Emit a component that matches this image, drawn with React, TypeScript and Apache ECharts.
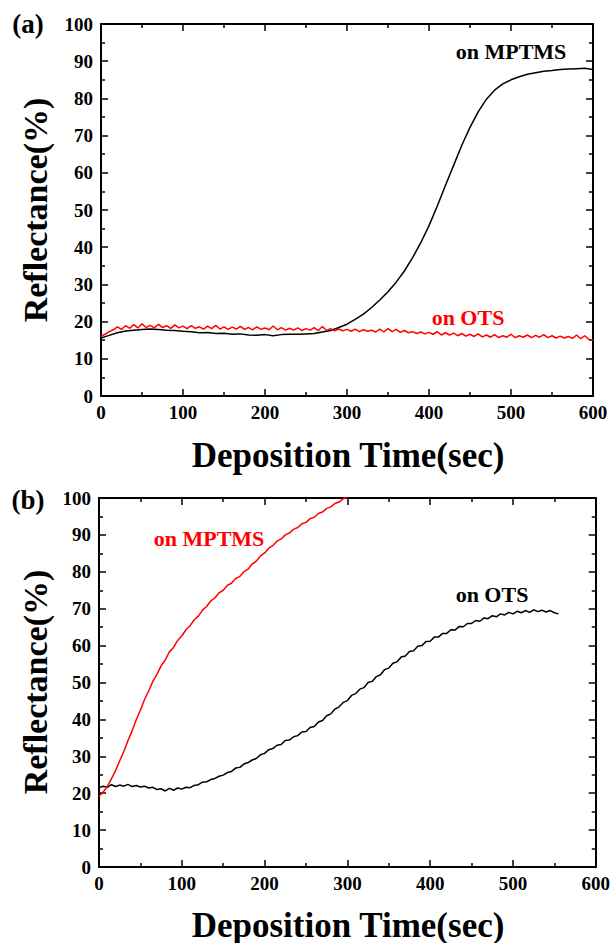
import React, { useEffect, useRef } from "react";
import * as echarts from "echarts";

// ---------- data ----------
// Panel (a): time axis in seconds
const A_MPTMS_STEP = 10; // samples every 10 s from 0 to 600
const A_MPTMS = [
  15.6, 16.3, 17.0, 17.5, 17.7, 17.9, 18.0, 17.9, 17.7, 17.6,
  17.4, 17.3, 17.0, 17.1, 16.8, 16.9, 16.6, 16.7, 16.4, 16.3,
  16.5, 16.2, 16.5, 16.6, 16.6, 16.7, 16.8, 17.2, 17.6, 18.4,
  19.3, 20.6, 22.0, 23.8, 25.8, 28.0, 30.6, 33.6, 37.2, 41.2,
  45.8, 51.0, 56.6, 62.0, 67.4, 72.2, 76.4, 79.8, 82.2, 83.9,
  85.0, 85.8, 86.5, 86.9, 87.3, 87.5, 87.8, 87.9, 88.0, 88.1,
  87.8,
];
const A_OTS_STEP = 5; // samples every 5 s from 0 to 600
const A_OTS = [
  16.1, 16.6, 17.3, 17.8, 18.6, 17.9, 18.9, 18.2, 19.2, 18.3,
  19.4, 18.4, 19.0, 18.3, 19.3, 18.4, 18.9, 18.2, 19.1, 18.3,
  18.8, 18.1, 18.9, 18.2, 18.6, 18.0, 18.8, 18.1, 19.0, 18.0,
  18.6, 17.9, 18.5, 18.0, 18.7, 17.9, 18.4, 17.8, 18.6, 17.9,
  18.3, 17.8, 18.8, 17.8, 18.4, 17.7, 18.2, 17.7, 18.3, 17.6,
  18.1, 17.7, 18.4, 17.6, 18.7, 17.6, 18.1, 17.5, 18.0, 17.5,
  17.9, 17.4, 18.0, 17.3, 17.8, 17.4, 17.7, 17.2, 18.0, 17.2,
  18.1, 17.3, 17.9, 17.1, 17.6, 17.0, 17.3, 16.8, 17.2, 16.7,
  17.1, 16.6, 17.3, 16.4, 17.0, 16.4, 16.9, 16.2, 16.8, 16.1,
  16.6, 16.0, 16.7, 15.9, 16.4, 15.8, 16.5, 15.7, 16.2, 15.8,
  16.6, 15.7, 16.2, 15.8, 16.4, 15.7, 16.3, 15.8, 16.5, 15.7,
  16.2, 15.6, 16.1, 15.6, 16.0, 15.5, 16.4, 15.4, 16.2, 15.2,
  14.9,
];

// Panel (b)
const B_MPTMS_STEP = 5; // 0 .. 300 s
const B_MPTMS = [
  19.2, 20.3, 21.8, 23.9, 26.1, 28.8, 31.3, 34.3, 36.9, 39.9,
  42.5, 45.4, 47.7, 50.3, 52.2, 54.5, 56.1, 58.3, 59.5, 61.4,
  62.6, 64.3, 65.4, 67.0, 68.0, 69.6, 70.6, 72.1, 72.9, 74.3,
  75.0, 76.3, 76.9, 78.2, 78.7, 80.0, 80.7, 82.1, 82.9, 84.3,
  85.1, 86.4, 87.1, 88.3, 88.9, 90.0, 90.5, 91.5, 92.0, 93.0,
  93.4, 94.4, 94.8, 95.8, 96.2, 97.2, 97.6, 98.5, 98.9, 99.8,
  100.2,
];
const B_OTS_STEP = 5; // 0 .. 555 s
const B_OTS = [
  21.5, 21.9, 21.6, 22.3, 21.8, 22.2, 21.9, 22.4, 21.8, 22.1,
  21.7, 21.9, 21.4, 21.6, 21.0, 21.2, 20.6, 21.3, 20.8, 21.4,
  21.1, 21.6, 21.5, 22.1, 22.3, 23.0, 23.1, 23.7, 24.0, 24.6,
  24.9, 25.6, 25.9, 26.8, 27.0, 27.9, 28.3, 29.0, 29.4, 30.4,
  30.8, 31.8, 32.1, 33.0, 33.2, 34.3, 34.4, 35.3, 35.6, 36.6,
  36.7, 37.8, 38.1, 39.3, 39.7, 41.0, 41.5, 42.8, 43.4, 44.6,
  45.1, 46.5, 47.0, 48.2, 48.6, 50.0, 50.3, 51.6, 52.1, 53.5,
  53.9, 55.2, 55.6, 56.9, 57.2, 58.4, 58.6, 59.8, 60.0, 61.1,
  61.2, 62.3, 62.3, 63.3, 63.3, 64.3, 64.2, 65.2, 65.1, 66.0,
  66.0, 66.8, 66.6, 67.5, 67.3, 68.1, 67.8, 68.6, 68.3, 69.0,
  68.6, 69.3, 68.9, 69.5, 69.0, 69.7, 69.2, 69.6, 69.1, 69.5,
  68.9, 68.6,
];

const X_TICKS = [0, 100, 200, 300, 400, 500, 600];
const Y_TICKS = [0, 10, 20, 30, 40, 50, 60, 70, 80, 90, 100];

const X_TITLE = "Deposition Time(sec)";
const Y_TITLE = "Reflectance(%)";

// ---------- helpers ----------
const FONT = "'Times New Roman', 'Liberation Serif', 'DejaVu Serif', serif";

const toPairs = (vals: number[], step: number) =>
  vals.map((v, i) => [i * step, v]);

const xAxisBase = (gridIndex: number, position: "bottom" | "top", labels: boolean) => ({
  type: "value",
  gridIndex,
  position,
  min: X_TICKS[0],
  max: X_TICKS[X_TICKS.length - 1],
  interval: X_TICKS[1] - X_TICKS[0],
  axisLine: { show: true, onZero: false, lineStyle: { color: "#000", width: 2 } },
  axisTick: { show: true, inside: true, length: 7, lineStyle: { color: "#000", width: 1.5 } },
  minorTick: { show: true, splitNumber: 2, length: 4, lineStyle: { color: "#000", width: 1.5 } },
  splitLine: { show: false },
  minorSplitLine: { show: false },
  axisLabel: {
    show: labels,
    color: "#000",
    fontSize: 19,
    fontWeight: "bold",
    fontFamily: FONT,
    margin: 7,
  },
});

const yAxisBase = (gridIndex: number, position: "left" | "right", labels: boolean) => ({
  type: "value",
  gridIndex,
  position,
  min: Y_TICKS[0],
  max: Y_TICKS[Y_TICKS.length - 1],
  interval: Y_TICKS[1] - Y_TICKS[0],
  axisLine: { show: true, onZero: false, lineStyle: { color: "#000", width: 2 } },
  axisTick: { show: true, inside: true, length: 7, lineStyle: { color: "#000", width: 1.5 } },
  minorTick: { show: true, splitNumber: 2, length: 4, lineStyle: { color: "#000", width: 1.5 } },
  splitLine: { show: false },
  minorSplitLine: { show: false },
  axisLabel: {
    show: labels,
    color: "#000",
    fontSize: 19,
    fontWeight: "bold",
    fontFamily: FONT,
    margin: 8,
  },
});

const lineSeries = (data: number[][], color: string, axisIndex: number) => ({
  type: "line",
  data,
  xAxisIndex: axisIndex,
  yAxisIndex: axisIndex,
  showSymbol: false,
  symbol: "none",
  clip: true,
  lineStyle: { color, width: 1.5 },
  itemStyle: { color },
});

const txt = (
  text: string,
  x: number,
  y: number,
  size: number,
  color = "#000",
  rotation = 0
) => ({
  type: "text",
  x,
  y,
  rotation,
  style: {
    text,
    fill: color,
    font: `bold ${size}px ${FONT}`,
    textAlign: "center",
    textVerticalAlign: "middle",
  },
});

export default function App() {
  const ref = useRef<HTMLDivElement>(null);

  useEffect(() => {
    if (!ref.current) return;
    const chart = echarts.init(ref.current, undefined, { renderer: "svg" });

    const option = {
      animation: false,
      backgroundColor: "#fff",
      grid: [
        { left: 101, top: 24, width: 492, height: 372 },
        { left: 99, top: 498, width: 497, height: 369 },
      ],
      xAxis: [
        xAxisBase(0, "bottom", true),
        xAxisBase(0, "top", false),
        xAxisBase(1, "bottom", true),
        xAxisBase(1, "top", false),
      ],
      yAxis: [
        yAxisBase(0, "left", true),
        yAxisBase(0, "right", false),
        yAxisBase(1, "left", true),
        yAxisBase(1, "right", false),
      ],
      series: [
        lineSeries(toPairs(A_MPTMS, A_MPTMS_STEP), "#000000", 0),
        lineSeries(toPairs(A_OTS, A_OTS_STEP), "#ff0000", 0),
        lineSeries(toPairs(B_OTS, B_OTS_STEP), "#000000", 2),
        lineSeries(toPairs(B_MPTMS, B_MPTMS_STEP), "#ff0000", 2),
      ],
      graphic: [
        txt("(a)", 28, 24, 27),
        txt("(b)", 28, 500, 27),
        txt(Y_TITLE, 35, 210, 34, "#000", Math.PI / 2),
        txt(Y_TITLE, 35, 682, 34, "#000", Math.PI / 2),
        txt(X_TITLE, 348, 455, 35),
        txt(X_TITLE, 348, 925, 35),
        txt("on MPTMS", 511, 51, 22, "#000"),
        txt("on OTS", 468, 317, 22, "#ff0000"),
        txt("on MPTMS", 209, 538, 22, "#ff0000"),
        txt("on OTS", 492, 594, 22, "#000"),
      ],
    };

    chart.setOption(option as any);
    return () => chart.dispose();
  }, []);

  return (
    <div
      ref={ref}
      style={{ position: "fixed", left: 0, top: 0, width: 613, height: 943, background: "#fff" }}
    />
  );
}
